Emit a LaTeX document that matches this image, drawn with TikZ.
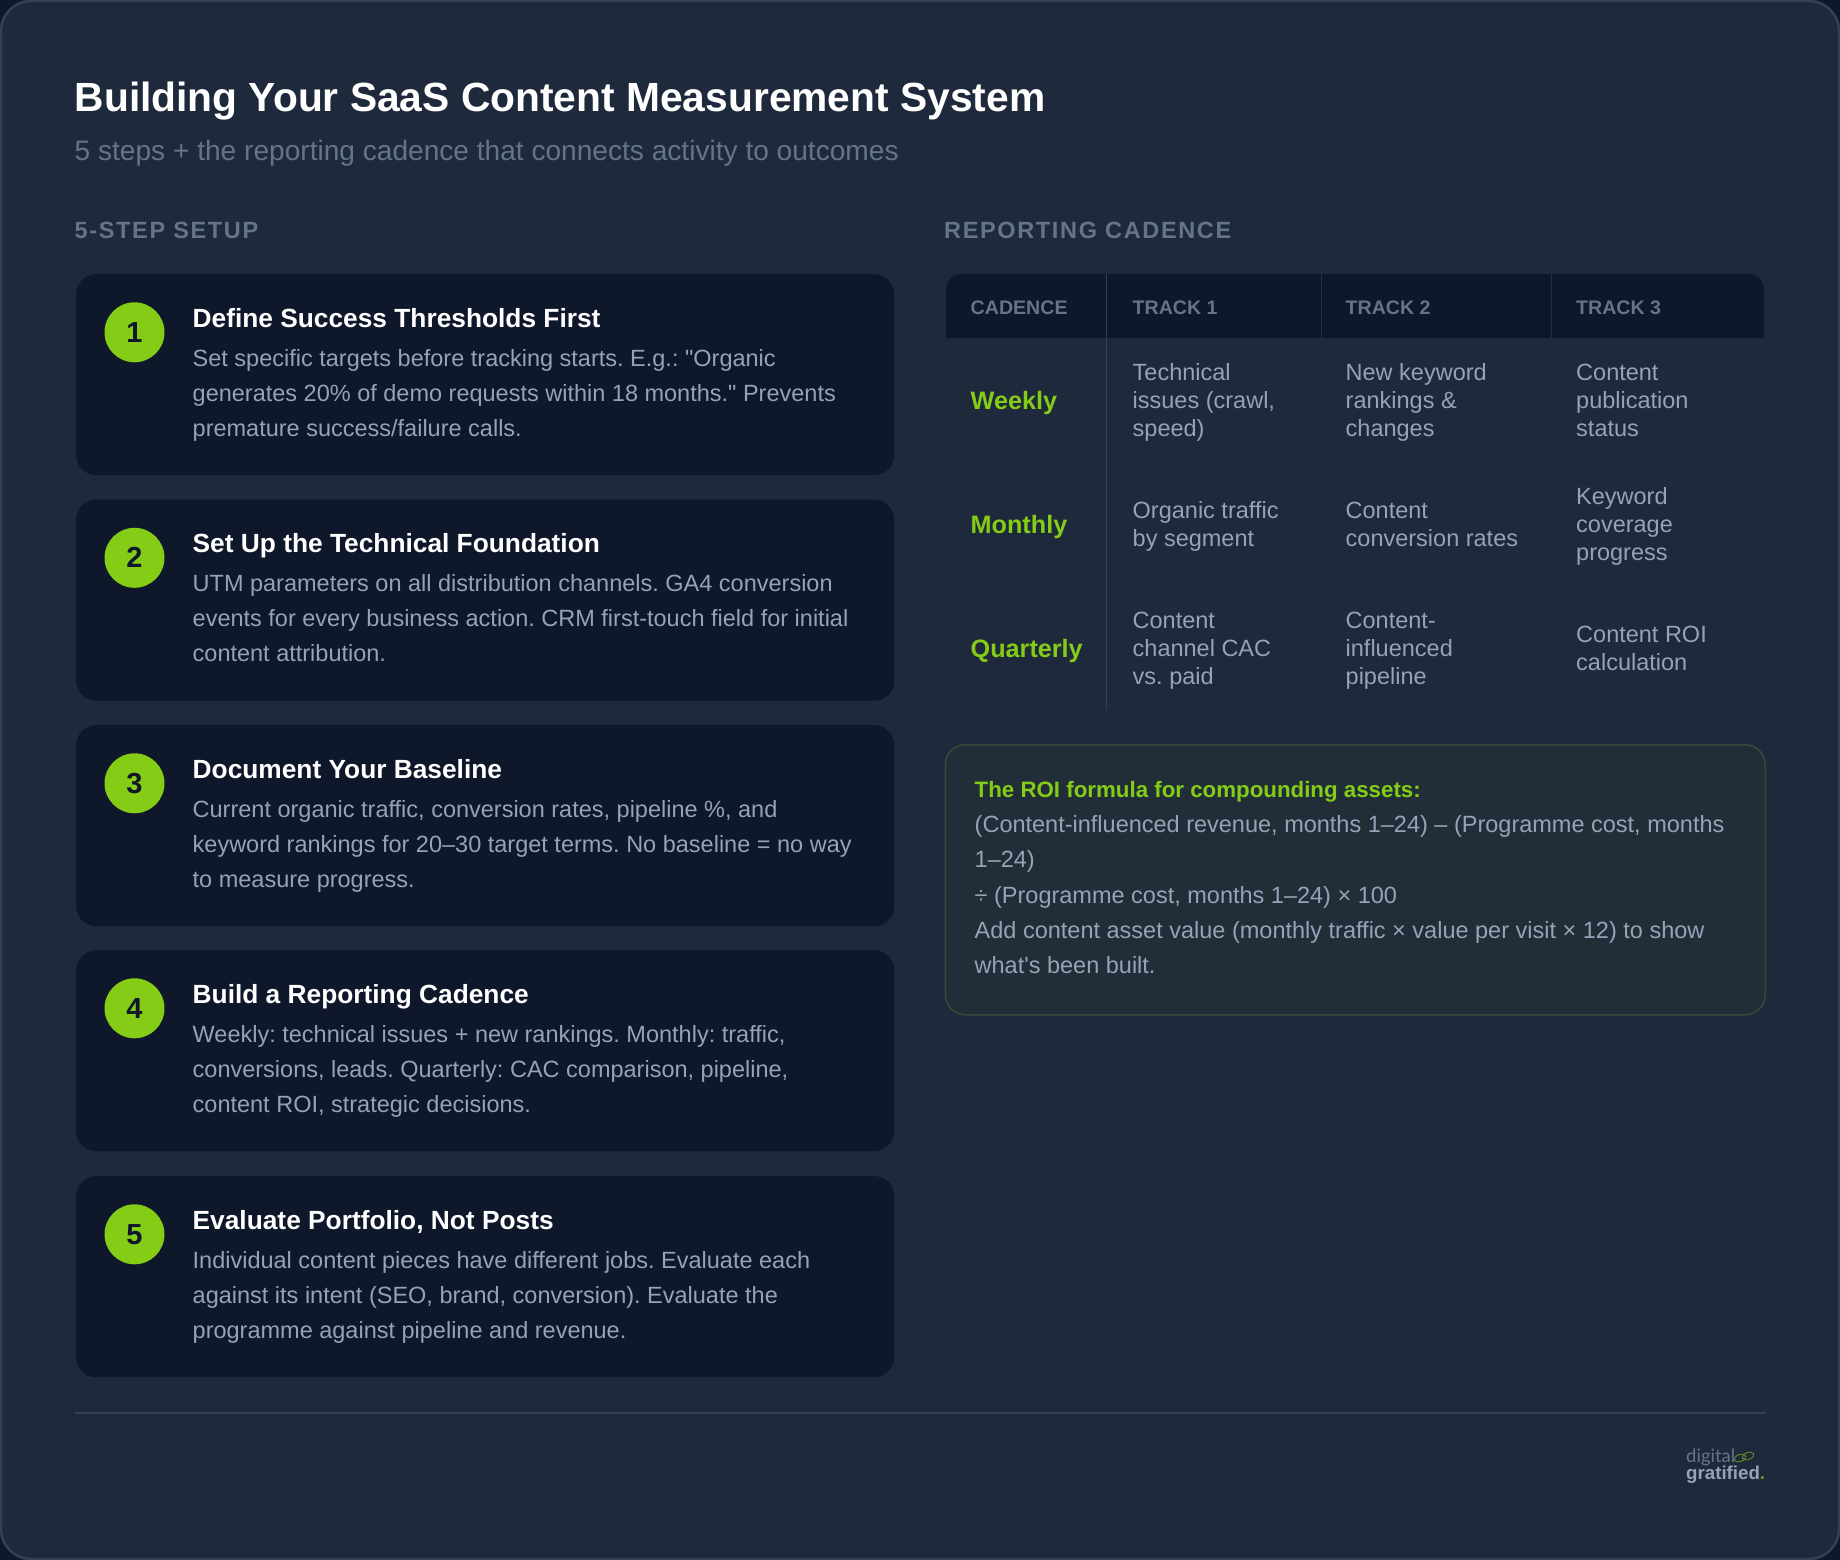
\documentclass[tikz,border=0pt]{standalone}
\usepackage{fontspec}
\setmainfont{Liberation Sans}[Ligatures=TeXOff]
\newfontfamily\spacedfont[LetterSpace=7]{Liberation Sans}
\newfontfamily\logofont{Lato}
\usetikzlibrary{shapes}
\frenchspacing
\definecolor{outerbg}{HTML}{0F172A}
\definecolor{panelbg}{HTML}{1E293B}
\definecolor{rulecol}{HTML}{334155}
\definecolor{cardbg}{HTML}{0F172A}
\definecolor{limecol}{HTML}{84CC16}
\definecolor{bodycol}{HTML}{94A3B8}
\definecolor{mutedcol}{HTML}{64748B}
\definecolor{roibg}{HTML}{212E38}
\definecolor{roiline}{HTML}{374A38}
\begin{document}
\begin{tikzpicture}
    [   x=1pt,y=-1pt,
        card/.style =
        {   fill=cardbg
        ,   rounded corners=20pt
        ,   anchor=north west
        ,   minimum width=818pt
        ,   minimum height=201pt
        ,   inner sep=0pt
        },
        stepnum/.style =
        {   circle
        ,   fill=limecol
        ,   text=cardbg
        ,   minimum size=60pt
        ,   inner sep=0pt
        ,   font=\fontsize{29}{29}\selectfont\bfseries
        },
        steptitle/.style =
        {   anchor=base west
        ,   inner sep=0pt
        ,   text=white
        ,   font=\fontsize{26.3}{32}\selectfont\bfseries
        },
        steptext/.style =
        {   anchor=base west
        ,   inner sep=0pt
        ,   align=left
        ,   text=bodycol
        ,   font=\fontsize{23.5}{35.2}\selectfont
        },
        sectionhead/.style =
        {   anchor=base west
        ,   inner sep=0pt
        ,   text=mutedcol
        ,   font=\fontsize{23.5}{28}\selectfont\spacedfont\bfseries
        },
        colhead/.style =
        {   anchor=base west
        ,   inner sep=0pt
        ,   text=mutedcol
        ,   font=\fontsize{19.6}{24}\selectfont\bfseries
        },
        rowhead/.style =
        {   anchor=base west
        ,   inner sep=0pt
        ,   text=limecol
        ,   font=\fontsize{25.2}{30}\selectfont\bfseries
        },
        celltext/.style =
        {   anchor=base west
        ,   inner sep=0pt
        ,   align=left
        ,   text=bodycol
        ,   font=\fontsize{23.5}{28}\selectfont
        }
    ]
    \newcommand{\stepcard}[4]{%
        \node (card#1) at (76,#2) [card] {};
        \node (num#1) at (134.5,#2+58.3) [stepnum] {#1};
        \node (title#1) at (192.5,#2+53) [steptitle] {#3};
        \node (text#1) at (192.5,#2+162.4) [steptext] {#4};
    }
    \useasboundingbox (0,0) rectangle (1840,1560);

    %% backdrop
    \fill[outerbg] (0,0) rectangle (1840,1560);
    \draw[rulecol,line width=2.5pt,fill=panelbg,rounded corners=30pt]
        (1,1) rectangle (1839,1559);

    %% heading
    \node (maintitle) at (74.5,112) [anchor=base west,inner sep=0pt,text=white,
        font=\fontsize{40.75}{48}\selectfont\bfseries]
        {Building Your SaaS Content Measurement System};
    \node (subtitle) at (74.5,160.5) [anchor=base west,inner sep=0pt,text=mutedcol,
        font=\fontsize{28.1}{32}\selectfont]
        {5 steps + the reporting cadence that connects activity to outcomes};
    \node (setuphead) at (74.5,238) [sectionhead] {5-STEP SETUP};
    \node (cadencehead) at (944,238) [sectionhead] {REPORTING CADENCE};

    %% steps
    \stepcard{1}{274}{Define Success Thresholds First}
        {Set specific targets before tracking starts. E.g.: "Organic\\
         generates 20\% of demo requests within 18 months." Prevents\\
         premature success/failure calls.}
    \stepcard{2}{499.5}{Set Up the Technical Foundation}
        {UTM parameters on all distribution channels. GA4 conversion\\
         events for every business action. CRM first-touch field for initial\\
         content attribution.}
    \stepcard{3}{725}{Document Your Baseline}
        {Current organic traffic, conversion rates, pipeline \%, and\\
         keyword rankings for 20–30 target terms. No baseline = no way\\
         to measure progress.}
    \stepcard{4}{950}{Build a Reporting Cadence}
        {Weekly: technical issues + new rankings. Monthly: traffic,\\
         conversions, leads. Quarterly: CAC comparison, pipeline,\\
         content ROI, strategic decisions.}
    \stepcard{5}{1176}{Evaluate Portfolio, Not Posts}
        {Individual content pieces have different jobs. Evaluate each\\
         against its intent (SEO, brand, conversion). Evaluate the\\
         programme against pipeline and revenue.}

    %% table
    % header row
    \fill[cardbg] (946,338) [rounded corners=16pt] -- (946,274) -- (1764,274)
        [sharp corners] -- (1764,338) -- cycle;
    \draw[rulecol,line width=1pt] (1106.5,274) -- (1106.5,710);
    \foreach\x in {1321,1551}
    {   \draw[rulecol!55!cardbg,line width=1pt] (\x,274) -- (\x,338);
    }
    \node (colcad) at (970.5,314) [colhead] {CADENCE};
    \node (colone) at (1132.5,314) [colhead] {TRACK 1};
    \node (coltwo) at (1345.5,314) [colhead] {TRACK 2};
    \node (colthree) at (1576,314) [colhead] {TRACK 3};
    % Weekly
    \node (rowweek) at (970.5,409) [rowhead] {Weekly};
    \node (weekone) at (1132.5,436) [celltext] {Technical\\issues (crawl,\\speed)};
    \node (weektwo) at (1345.5,436) [celltext] {New keyword\\rankings \&\\changes};
    \node (weekthree) at (1576,436) [celltext] {Content\\publication\\status};
    % Monthly
    \node (rowmonth) at (970.5,533) [rowhead] {Monthly};
    \node (monthone) at (1132.5,546) [celltext] {Organic traffic\\by segment};
    \node (monthtwo) at (1345.5,546) [celltext] {Content\\conversion rates};
    \node (monththree) at (1576,560) [celltext] {Keyword\\coverage\\progress};
    % Quarterly
    \node (rowquart) at (970.5,657) [rowhead] {Quarterly};
    \node (quartone) at (1132.5,684) [celltext] {Content\\channel CAC\\vs. paid};
    \node (quarttwo) at (1345.5,684) [celltext] {Content-\\influenced\\pipeline};
    \node (quartthree) at (1576,670) [celltext] {Content ROI\\calculation};

    %% formula box
    \node (roibox) at (944.5,744) [anchor=north west,draw=roiline,fill=roibg,
        line width=1.5pt,rounded corners=20pt,inner sep=0pt,
        minimum width=820pt,minimum height=270pt] {};
    \node (roihead) at (974.5,797) [anchor=base west,inner sep=0pt,text=limecol,
        font=\fontsize{22.3}{28}\selectfont\bfseries]
        {The ROI formula for compounding assets:};
    \node (roitext) at (974.5,973.5) [steptext]
        {(Content-influenced revenue, months 1–24) – (Programme cost, months\\
         1–24)\\
         ÷ (Programme cost, months 1–24) × 100\\
         Add content asset value (monthly traffic × value per visit × 12) to show\\
         what's been built.};

    %% footer
    \draw[rulecol,line width=2pt] (74.5,1413) -- (1766,1413);
    \node (logotop) at (1686,1462) [anchor=base west,inner sep=0pt,text=mutedcol,
        font=\fontsize{18.5}{21}\selectfont\logofont] {digital};
    \node (logobottom) at (1686,1479) [anchor=base west,inner sep=0pt,text=bodycol,
        font=\fontsize{18.7}{21.5}\selectfont\bfseries]
        {gratified\textcolor{limecol!70!panelbg}{.}};
    \node (linkleft) at (1740,1458) [draw=limecol!70!panelbg,ellipse,line width=.8pt,
        rotate=20,inner sep=0pt,minimum width=12pt,minimum height=7pt] {};
    \node (linkright) at (1748,1456) [draw=limecol!70!panelbg,ellipse,line width=.8pt,
        rotate=20,inner sep=0pt,minimum width=12pt,minimum height=7pt] {};
\end{tikzpicture}
\end{document}
